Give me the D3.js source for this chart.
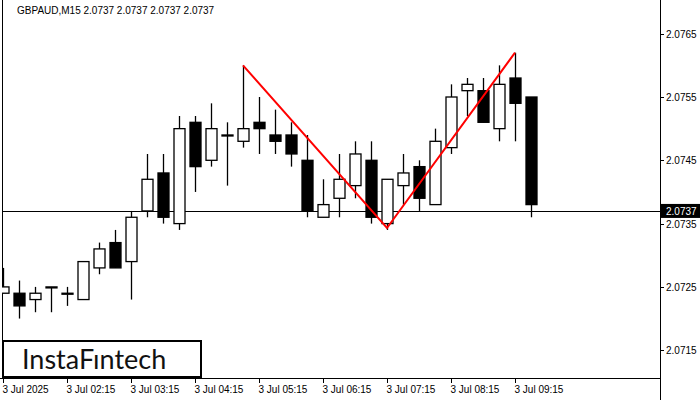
<!DOCTYPE html>
<html>
<head>
<meta charset="utf-8">
<script src="https://cdn.jsdelivr.net/npm/d3@7"></script>
<style>
  body { margin: 0; background: #fff; }
  svg { display: block; font-family: "Liberation Sans", Arial, sans-serif; }
</style>
</head>
<body>
<div id="chart"></div>
<script>
"use strict";

// ---------------------------- DATA ----------------------------//
const symbol = "GBPAUD,M15";
const lastPrice = 2.0737;
const opens  = [2.0724, 2.0724, 2.0723, 2.0725, 2.0724, 2.0723, 2.0728, 2.0732, 2.0729, 2.0737,
                2.0743, 2.0735, 2.0751, 2.0745, 2.0749, 2.0748, 2.0751, 2.0749, 2.0749, 2.0745,
                2.0736, 2.0739, 2.0741, 2.0745, 2.0735, 2.0741, 2.0744, 2.0738, 2.0747, 2.0756,
                2.0756, 2.0750, 2.0758, 2.0755];
const highs  = [2.0728, 2.0726, 2.0725, 2.0725, 2.0725, 2.0729, 2.0732, 2.0734, 2.0737, 2.0746,
                2.0746, 2.0752, 2.0752, 2.0754, 2.0751, 2.0760, 2.0755, 2.0753, 2.0751, 2.0749,
                2.0742, 2.0746, 2.0748, 2.0748, 2.0742, 2.0746, 2.0745, 2.0750, 2.0757, 2.0758,
                2.0758, 2.0760, 2.0762, 2.0755];
const lows   = [2.0724, 2.0720, 2.0721, 2.0721, 2.0722, 2.0723, 2.0727, 2.0728, 2.0723, 2.0736,
                2.0735, 2.0734, 2.0740, 2.0744, 2.0741, 2.0747, 2.0746, 2.0746, 2.0744, 2.0736,
                2.0736, 2.0736, 2.0739, 2.0735, 2.0734, 2.0738, 2.0737, 2.0738, 2.0746, 2.0752,
                2.0751, 2.0748, 2.0748, 2.0736];
const closes = [2.0725, 2.0722, 2.0724, 2.0725, 2.0724, 2.0729, 2.0731, 2.0728, 2.0736, 2.0742,
                2.0736, 2.0750, 2.0744, 2.0750, 2.0749, 2.0750, 2.0750, 2.0748, 2.0746, 2.0737,
                2.0738, 2.0742, 2.0746, 2.0736, 2.0742, 2.0743, 2.0739, 2.0748, 2.0755, 2.0757,
                2.0751, 2.0757, 2.0754, 2.0738];
const patternIdx    = [15, 24, 32];
const patternPrices = [2.0760, 2.07343, 2.0762];
const priceTicks = [2.0715, 2.0725, 2.0735, 2.0745, 2.0755, 2.0765];
const timeTickIdx = [0, 4, 8, 12, 16, 20, 24, 28, 32];
const timeLabels = ["3 Jul 2025", "3 Jul 02:15", "3 Jul 03:15", "3 Jul 04:15", "3 Jul 05:15",
                    "3 Jul 06:15", "3 Jul 07:15", "3 Jul 08:15", "3 Jul 09:15"];

//---------------------------- SVG -----------------------------//
const width = 700, height = 400;
const plotRight = 660, plotBottom = 378;

const svg = d3.select("#chart").append("svg")
    .attr("width", width)
    .attr("height", height);

//--------------------------- SCALES ---------------------------//
const x = d3.scaleLinear().domain([0, 1]).range([3, 19]);
const y = d3.scaleLinear().domain([2.0755, 2.0745]).range([97, 160.3]);

const candles = opens.map((o, i) => ({
    i: i, open: o, high: highs[i], low: lows[i], close: closes[i]
}));

svg.append("defs").append("clipPath").attr("id", "plot")
    .append("rect").attr("x", 2).attr("y", 0)
    .attr("width", plotRight - 2).attr("height", plotBottom);

//--------------------------- FRAME ----------------------------//
svg.append("line").attr("x1", 2.5).attr("x2", 2.5).attr("y1", 0).attr("y2", plotBottom)
    .attr("stroke", "#000");
svg.append("line").attr("x1", plotRight + 0.5).attr("x2", plotRight + 0.5)
    .attr("y1", 0).attr("y2", height).attr("stroke", "#000");
svg.append("line").attr("x1", 0).attr("x2", plotRight).attr("y1", plotBottom + 0.5)
    .attr("y2", plotBottom + 0.5).attr("stroke", "#000");

const plot = svg.append("g").attr("clip-path", "url(#plot)");

// last price line
plot.append("line")
    .attr("x1", 0).attr("x2", plotRight)
    .attr("y1", Math.round(y(lastPrice)) + 0.5).attr("y2", Math.round(y(lastPrice)) + 0.5)
    .attr("stroke", "#000");

//-------------------------- CANDLES ---------------------------//
const cg = plot.selectAll("g.candle").data(candles).enter().append("g");
cg.append("line")
    .attr("x1", d => Math.round(x(d.i)) + 0.5).attr("x2", d => Math.round(x(d.i)) + 0.5)
    .attr("y1", d => y(d.high)).attr("y2", d => y(d.low))
    .attr("stroke", "#000").attr("stroke-width", 1.3);
cg.append("rect")
    .attr("x", d => Math.round(x(d.i)) - 5)
    .attr("y", d => y(Math.max(d.open, d.close)))
    .attr("width", 11)
    .attr("height", d => Math.max(1, Math.abs(y(d.open) - y(d.close))))
    .attr("fill", d => d.close < d.open ? "#000" : "#fff")
    .attr("stroke", "#000").attr("stroke-width", 1.3);

//-------------------------- PATTERN ---------------------------//
const line = d3.line().x(d => x(d[0])).y(d => y(d[1]));
plot.append("path")
    .attr("d", line(patternIdx.map((d, k) => [d, patternPrices[k]])))
    .attr("fill", "none").attr("stroke", "#f00").attr("stroke-width", 2);

//---------------------------- AXES ----------------------------//
const yAxis = svg.append("g").attr("transform", `translate(${plotRight},0)`);
priceTicks.forEach(p => {
    yAxis.append("line").attr("x1", 0).attr("x2", 4)
        .attr("y1", Math.round(y(p)) + 0.5).attr("y2", Math.round(y(p)) + 0.5).attr("stroke", "#000");
    yAxis.append("text").attr("x", 6).attr("y", y(p) + 4)
        .attr("font-size", 10).text(p.toFixed(4));
});
yAxis.append("rect").attr("x", 1).attr("y", y(lastPrice) - 7)
    .attr("width", 39).attr("height", 14).attr("fill", "#000");
yAxis.append("text").attr("x", 6).attr("y", y(lastPrice) + 4)
    .attr("font-size", 10).attr("fill", "#fff").text(lastPrice.toFixed(4));

const xAxis = svg.append("g").attr("transform", `translate(0,${plotBottom})`);
timeTickIdx.forEach((t, k) => {
    const px = Math.round(x(t)) + 0.5;
    xAxis.append("line").attr("x1", px).attr("x2", px).attr("y1", 0).attr("y2", 5).attr("stroke", "#000");
    xAxis.append("text").attr("x", px - 1).attr("y", 15)
        .attr("font-size", 10).text(timeLabels[k]);
});

//--------------------------- LABELS ---------------------------//
svg.append("text").attr("x", 17).attr("y", 14).attr("font-size", 10)
    .text(symbol + "  " + [lastPrice, lastPrice, lastPrice, lastPrice].map(v => v.toFixed(4)).join(" "));

svg.append("rect").attr("x", 3).attr("y", 341).attr("width", 198).attr("height", 36)
    .attr("fill", "#fff").attr("stroke", "#000").attr("stroke-width", 2);
svg.append("text").attr("x", 22).attr("y", 369)
    .attr("font-family", "Lato, 'Open Sans', sans-serif").attr("font-size", 27)
    .attr("fill", "#111").text("InstaFıntech");
</script>
</body>
</html>
